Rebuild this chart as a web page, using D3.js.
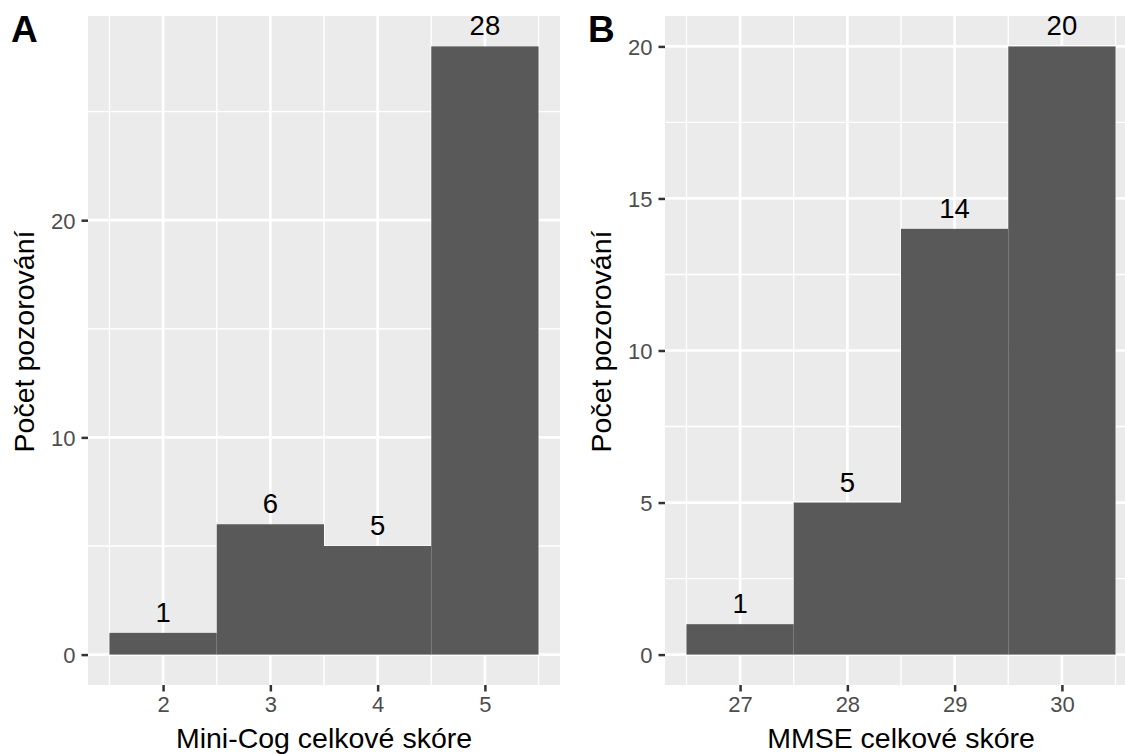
<!DOCTYPE html>
<html lang="cs">
<head>
<meta charset="utf-8">
<title>Mini-Cog a MMSE</title>
<script src="https://cdnjs.cloudflare.com/ajax/libs/d3/7.8.5/d3.min.js"></script>
<style>
  body { margin: 0; background: #fff; }
  svg { display: block; font-family: "Liberation Sans", Arial, sans-serif; }
</style>
</head>
<body>
<div id="chart"></div>
<script>
// panel A
const miniCogScores = [2, 3, 4, 5];
const miniCogCounts = [1, 6, 5, 28];
const miniCogYTicks = [0, 10, 20];
const miniCogYMinor = [5, 15, 25];

// panel B
const mmseScores = [27, 28, 29, 30];
const mmseCounts = [1, 5, 14, 20];
const mmseYTicks = [0, 5, 10, 15, 20];
const mmseYMinor = [2.5, 7.5, 12.5, 17.5];

const yTitle = "Počet pozorování";

const W = 1125, H = 754;
const svg = d3.select("#chart").append("svg")
  .attr("width", W).attr("height", H);

const panelTop = 16, panelBottom = 685, panelW = 472;

function drawPanel(opt) {
  const { left, letter, letterX, scores, counts, yTicks, yMinor, xTitle } = opt;
  const xMin = d3.min(scores) - 0.5, xMax = d3.max(scores) + 0.5;
  const xPad = (xMax - xMin) * 0.05;
  const yMax = d3.max(counts);
  const yPad = yMax * 0.05;

  const x = d3.scaleLinear().domain([xMin - xPad, xMax + xPad]).range([left, left + panelW]);
  const y = d3.scaleLinear().domain([-yPad, yMax + yPad]).range([panelBottom, panelTop]);

  const g = svg.append("g");

  g.append("rect")
    .attr("x", left).attr("y", panelTop)
    .attr("width", panelW).attr("height", panelBottom - panelTop)
    .attr("fill", "#EBEBEB");

  // minor grid
  const xMinor = scores.map(s => s - 0.5).concat([d3.max(scores) + 0.5]);
  g.selectAll(".xminor").data(xMinor).enter().append("line")
    .attr("x1", d => x(d)).attr("x2", d => x(d))
    .attr("y1", panelTop).attr("y2", panelBottom)
    .attr("stroke", "#fff").attr("stroke-width", 1.35);
  g.selectAll(".yminor").data(yMinor).enter().append("line")
    .attr("y1", d => y(d)).attr("y2", d => y(d))
    .attr("x1", left).attr("x2", left + panelW)
    .attr("stroke", "#fff").attr("stroke-width", 1.35);
  // major grid
  g.selectAll(".xmajor").data(scores).enter().append("line")
    .attr("x1", d => x(d)).attr("x2", d => x(d))
    .attr("y1", panelTop).attr("y2", panelBottom)
    .attr("stroke", "#fff").attr("stroke-width", 2.7);
  g.selectAll(".ymajor").data(yTicks).enter().append("line")
    .attr("y1", d => y(d)).attr("y2", d => y(d))
    .attr("x1", left).attr("x2", left + panelW)
    .attr("stroke", "#fff").attr("stroke-width", 2.7);

  // bars
  g.selectAll(".bar").data(scores).enter().append("rect")
    .attr("x", d => x(d - 0.5))
    .attr("width", d => x(d + 0.5) - x(d - 0.5))
    .attr("y", (d, i) => y(counts[i]))
    .attr("height", (d, i) => y(0) - y(counts[i]))
    .attr("fill", "#595959");

  // bar labels
  g.selectAll(".lab").data(scores).enter().append("text")
    .attr("x", d => x(d))
    .attr("y", (d, i) => y(counts[i]) - 11)
    .attr("text-anchor", "middle")
    .attr("font-size", 27.5)
    .attr("fill", "#000")
    .text((d, i) => counts[i]);

  // axes
  const xAxis = g.append("g")
    .attr("transform", `translate(0,${panelBottom})`)
    .call(d3.axisBottom(x).tickValues(scores).tickSize(6.5).tickPadding(5).tickFormat(d3.format("d")));
  const yAxis = g.append("g")
    .attr("transform", `translate(${left},0)`)
    .call(d3.axisLeft(y).tickValues(yTicks).tickSize(6.5).tickPadding(6).tickFormat(d3.format("d")));
  [xAxis, yAxis].forEach(a => {
    a.select(".domain").remove();
    a.selectAll(".tick line").attr("stroke", "#333333").attr("stroke-width", 2.5);
    a.selectAll(".tick text").attr("fill", "#4D4D4D").attr("font-size", 22)
      .attr("font-family", "Liberation Sans, Arial, sans-serif");
  });
  yAxis.selectAll(".tick text").attr("dy", "0.36em");

  // titles
  g.append("text")
    .attr("x", left + panelW / 2).attr("y", 748)
    .attr("text-anchor", "middle").attr("font-size", 28.5).attr("fill", "#000")
    .text(xTitle);
  g.append("text")
    .attr("transform", `translate(${left - 54},${(panelTop + panelBottom) / 2 - 9}) rotate(-90)`)
    .attr("text-anchor", "middle").attr("font-size", 28.5).attr("fill", "#000")
    .text(yTitle);

  g.append("text")
    .attr("x", letterX).attr("y", 42)
    .attr("font-size", 37).attr("font-weight", "bold").attr("fill", "#000")
    .text(letter);
}

drawPanel({ left: 88, letter: "A", letterX: 11, scores: miniCogScores, counts: miniCogCounts,
  yTicks: miniCogYTicks, yMinor: miniCogYMinor, xTitle: "Mini-Cog celkové skóre" });
drawPanel({ left: 665, letter: "B", letterX: 588, scores: mmseScores, counts: mmseCounts,
  yTicks: mmseYTicks, yMinor: mmseYMinor, xTitle: "MMSE celkové skóre" });
</script>
</body>
</html>
